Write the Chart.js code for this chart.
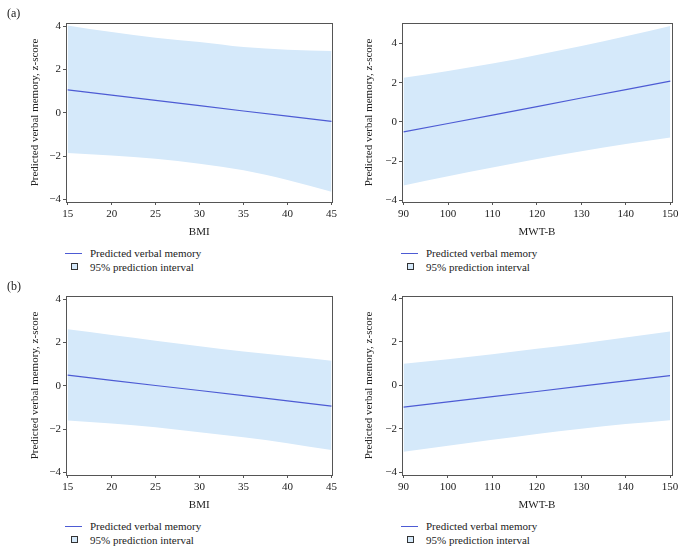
<!DOCTYPE html>
<html lang="en">
<head>
<meta charset="UTF-8">
<title>Predicted verbal memory</title>
<script src="https://cdn.jsdelivr.net/npm/chart.js"></script>
<style>
    body {
        margin: 0;
        background: #fff;
        font-family: "Liberation Serif", "DejaVu Serif", serif;
        color: #222;
    }

    #page {
        position: relative;
        width: 685px;
        height: 554px;
        overflow: hidden;
    }

    .panel, .tag, .legend-line, .legend-box, .legend-text {
        position: absolute;
    }

    .tag {
        left: 7px;
        font-size: 12px;
        line-height: 14px;
    }

    .legend-line {
        width: 17px;
        height: 1px;
        background: #4d5bd4;
    }

    .legend-box {
        width: 5px;
        height: 5px;
        background: #d5e9fa;
        border: 1px solid #333;
    }

    .legend-text {
        font-size: 11px;
        line-height: 14px;
        white-space: nowrap;
    }
</style>
</head>
<body>
<div id="page"></div>

<script>
    // x values and tick labels
    const bmiX = [15, 20, 25, 30, 35, 40, 45];
    const mwtX = [90, 100, 110, 120, 130, 140, 150];
    const bmiTicks = [15, 20, 25, 30, 35, 40, 45];
    const mwtTicks = [90, 100, 110, 120, 130, 140, 150];
    const yTicks = [-4, -2, 0, 2, 4];

    // (a) predicted verbal memory and 95% prediction interval
    const aBmiFit = [1.05, 0.81, 0.57, 0.33, 0.08, -0.16, -0.40];
    const aBmiUpper = [4.03, 3.72, 3.46, 3.26, 3.03, 2.91, 2.85];
    const aBmiLower = [-1.86, -1.97, -2.12, -2.35, -2.66, -3.11, -3.65];

    const aMwtFit = [-0.51, -0.08, 0.35, 0.78, 1.22, 1.65, 2.08];
    const aMwtUpper = [2.25, 2.60, 2.98, 3.42, 3.88, 4.37, 4.90];
    const aMwtLower = [-3.25, -2.78, -2.33, -1.90, -1.50, -1.13, -0.80];

    // (b)
    const bBmiFit = [0.49, 0.25, 0.01, -0.22, -0.46, -0.70, -0.94];
    const bBmiUpper = [2.60, 2.34, 2.08, 1.82, 1.58, 1.37, 1.15];
    const bBmiLower = [-1.60, -1.74, -1.92, -2.15, -2.38, -2.65, -2.97];

    const bMwtFit = [-1.00, -0.76, -0.52, -0.28, -0.03, 0.21, 0.45];
    const bMwtUpper = [1.00, 1.20, 1.43, 1.68, 1.93, 2.20, 2.48];
    const bMwtLower = [-3.05, -2.78, -2.50, -2.23, -1.99, -1.78, -1.60];

    const legendLabels = ['Predicted verbal memory', '95% prediction interval'];
    const yTitle = 'Predicted verbal memory, z-score';

    const LINE = '#4d5bd4';
    const BAND = '#d5e9fa';
    const FRAME = '#555';
    const TEXT = '#222';
    const FONT = {family: '"Liberation Serif", "DejaVu Serif", serif', size: 11};

    const CANVAS_H = 246;
    const FRAME_TOP = 23;
    const FRAME_BOTTOM = 202;

    const panels = [
        {top: 0, left: 0, width: 340, frameLeft: 66, frameRight: 334, titleX: 35,
            xs: bmiX, xTicks: bmiTicks, xTitle: 'BMI', xMin: 14.81, xMax: 45.11, yMin: -4.12, yMax: 4.14,
            fit: aBmiFit, upper: aBmiUpper, lower: aBmiLower, tag: '(a)'},
        {top: 0, left: 340, width: 345, frameLeft: 62, frameRight: 332, titleX: 29,
            xs: mwtX, xTicks: mwtTicks, xTitle: 'MWT-B', xMin: 89.64, xMax: 150.38, yMin: -4.09, yMax: 5.05,
            fit: aMwtFit, upper: aMwtUpper, lower: aMwtLower},
        {top: 273, left: 0, width: 340, frameLeft: 66, frameRight: 334, titleX: 35,
            xs: bmiX, xTicks: bmiTicks, xTitle: 'BMI', xMin: 14.81, xMax: 45.11, yMin: -4.12, yMax: 4.14,
            fit: bBmiFit, upper: bBmiUpper, lower: bBmiLower, tag: '(b)'},
        {top: 273, left: 340, width: 345, frameLeft: 62, frameRight: 332, titleX: 29,
            xs: mwtX, xTicks: mwtTicks, xTitle: 'MWT-B', xMin: 89.64, xMax: 150.45, yMin: -4.12, yMax: 4.11,
            fit: bMwtFit, upper: bMwtUpper, lower: bMwtLower}
    ];

    const framePlugin = {
        id: 'frame',
        afterDraw(chart) {
            const {ctx, chartArea: a} = chart;
            ctx.save();
            ctx.strokeStyle = FRAME;
            ctx.lineWidth = 1;
            ctx.strokeRect(Math.round(a.left) + 0.5, Math.round(a.top) + 0.5,
                Math.round(a.right - a.left), Math.round(a.bottom - a.top));
            ctx.restore();
        }
    };

    function points(xs, ys) {
        return xs.map((x, i) => ({x, y: ys[i]}));
    }

    function minusSign(v) {
        return v < 0 ? '\u2212' + Math.abs(v) : String(v);
    }

    function addLegend(page, p) {
        const x = p.left + p.frameLeft;
        const y = p.top + FRAME_BOTTOM;

        const line = document.createElement('div');
        line.className = 'legend-line';
        line.style.left = (x - 1) + 'px';
        line.style.top = (y + 51) + 'px';
        page.appendChild(line);

        const box = document.createElement('div');
        box.className = 'legend-box';
        box.style.left = (x + 5) + 'px';
        box.style.top = (y + 61) + 'px';
        page.appendChild(box);

        legendLabels.forEach((label, i) => {
            const t = document.createElement('div');
            t.className = 'legend-text';
            t.textContent = label;
            t.style.left = (x + 24) + 'px';
            t.style.top = (y + 44 + i * 14) + 'px';
            page.appendChild(t);
        });
    }

    function createPanel(page, p) {
        const holder = document.createElement('div');
        holder.className = 'panel';
        holder.style.left = p.left + 'px';
        holder.style.top = p.top + 'px';
        const canvas = document.createElement('canvas');
        canvas.width = p.width;
        canvas.height = CANVAS_H;
        holder.appendChild(canvas);
        page.appendChild(holder);

        if (p.tag) {
            const tag = document.createElement('div');
            tag.className = 'tag';
            tag.textContent = p.tag;
            tag.style.top = (p.top + 6) + 'px';
            page.appendChild(tag);
        }
        addLegend(page, p);

        // datasets are painted last-to-first, so the fit line goes first to end up on top
        return new Chart(canvas, {
            type: 'line',
            data: {
                datasets: [
                    {
                        label: legendLabels[0], data: points(p.xs, p.fit),
                        borderColor: LINE, borderWidth: 1.2, pointRadius: 0, fill: false
                    },
                    {
                        label: 'lower', data: points(p.xs, p.lower),
                        borderWidth: 0, borderColor: 'rgba(0,0,0,0)', pointRadius: 0,
                        fill: false, cubicInterpolationMode: 'monotone'
                    },
                    {
                        label: legendLabels[1], data: points(p.xs, p.upper),
                        borderWidth: 0, borderColor: 'rgba(0,0,0,0)', pointRadius: 0,
                        backgroundColor: BAND, fill: '-1', cubicInterpolationMode: 'monotone'
                    }
                ]
            },
            options: {
                responsive: false,
                animation: false,
                layout: {padding: {left: 0, top: FRAME_TOP, right: p.width - p.frameRight, bottom: 0}},
                plugins: {legend: {display: false}, tooltip: {enabled: false}},
                scales: {
                    x: {
                        type: 'linear', min: p.xMin, max: p.xMax,
                        afterBuildTicks: s => { s.ticks = p.xTicks.map(v => ({value: v})); },
                        afterFit: s => { s.height = CANVAS_H - FRAME_BOTTOM; },
                        grid: {drawOnChartArea: false, tickLength: 3, color: FRAME},
                        border: {display: false},
                        ticks: {font: FONT, color: TEXT, padding: 3, maxRotation: 0},
                        title: {display: true, text: p.xTitle, font: FONT, color: TEXT, padding: {top: 0, bottom: 7}}
                    },
                    y: {
                        min: p.yMin, max: p.yMax,
                        afterBuildTicks: s => { s.ticks = yTicks.map(v => ({value: v})); },
                        afterFit: s => { s.width = p.frameLeft; },
                        grid: {drawOnChartArea: false, tickLength: 3, color: FRAME},
                        border: {display: false},
                        ticks: {font: FONT, color: TEXT, padding: 2, callback: minusSign},
                        title: {display: true, text: yTitle, font: FONT, color: TEXT, padding: {top: p.titleX - 6.6, bottom: 0}}
                    }
                }
            },
            plugins: [framePlugin]
        });
    }

    const page = document.getElementById('page');
    panels.forEach(p => createPanel(page, p));
</script>
</body>
</html>
